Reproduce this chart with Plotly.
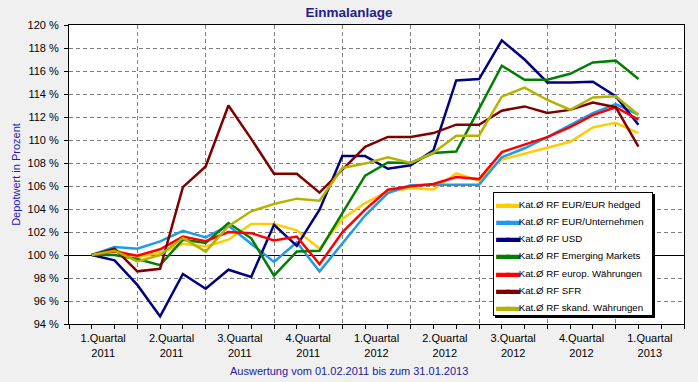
import plotly.graph_objects as go

months = list(range(1, 26))

quarter_labels = ["1.Quartal<br>2011", "2.Quartal<br>2011", "3.Quartal<br>2011", "4.Quartal<br>2011",
                  "1.Quartal<br>2012", "2.Quartal<br>2012", "3.Quartal<br>2012", "4.Quartal<br>2012",
                  "1.Quartal<br>2013"]
quarter_centers = [1.5, 4.5, 7.5, 10.5, 13.5, 16.5, 19.5, 22.5, 25.5]
quarter_bounds = [3, 6, 9, 12, 15, 18, 21, 24]

names = ["Kat.Ø RF EUR/EUR hedged", "Kat.Ø RF EUR/Unternehmen", "Kat.Ø RF USD",
         "Kat.Ø RF Emerging Markets", "Kat.Ø RF europ. Währungen", "Kat.Ø RF SFR",
         "Kat.Ø RF skand. Währungen"]

eur_hedged = [100, 100.46, 99.83, 100.17, 100.98, 100.75, 101.33, 102.7, 102.7, 102.14, 100.55, 103.13,
              104.52, 105.53, 105.8, 105.7, 107.1, 106.46, 108.3, 108.8, 109.3, 109.85, 111.1, 111.5, 110.6]
eur_unternehmen = [100, 100.7, 100.55, 101.18, 102.1, 101.53, 102.55, 100.95, 99.4, 101.1, 98.57, 101.0,
                   103.43, 105.39, 106.06, 106.1, 106.1, 106.1, 108.5, 109.28, 110.25, 111.33, 112.34, 113.13, 112.2]
usd = [100, 99.53, 97.4, 94.66, 98.35, 97.07, 98.72, 98.1, 102.63, 100.8, 103.94, 108.6,
       108.6, 107.5, 107.8, 109.1, 115.18, 115.3, 118.66, 117.0, 115.0, 115.0, 115.07, 113.8, 111.33]
emerging = [100, 100.0, 99.65, 99.12, 101.33, 101.04, 102.78, 101.45, 98.2, 100.3, 100.37, 103.6,
            106.9, 108.05, 108.0, 108.87, 109.0, 112.7, 116.46, 115.24, 115.24, 115.76, 116.74, 116.9, 115.3]
europ = [100, 100.3, 99.94, 100.5, 101.6, 101.2, 102.0, 101.9, 101.27, 101.6, 99.2, 101.97,
         103.95, 105.67, 105.97, 106.18, 106.78, 106.6, 108.95, 109.58, 110.25, 111.12, 112.17, 112.85, 111.78]
sfr = [100, 100.55, 98.58, 98.8, 105.9, 107.7, 113.0, 110.1, 107.07, 107.07, 105.42, 107.4,
       109.4, 110.27, 110.27, 110.6, 111.33, 111.33, 112.55, 112.92, 112.35, 112.62, 113.25, 112.85, 109.43]
skand = [100, 100.37, 99.45, 100.0, 101.47, 100.3, 102.5, 103.8, 104.43, 104.9, 104.72, 107.57,
         107.95, 108.5, 108.0, 108.9, 110.37, 110.37, 113.77, 114.55, 113.48, 112.63, 113.7, 113.8, 112.2]

series = [eur_hedged, eur_unternehmen, usd, emerging, europ, sfr, skand]
colors = ["#ffcc00", "#1e9be8", "#000080", "#008000", "#ff0000", "#800000", "#b4b400"]

FONT = "Liberation Sans, Arial, sans-serif"

fig = go.Figure()
for name, vals, col in zip(names, series, colors):
    fig.add_trace(go.Scatter(x=months, y=vals, mode="lines", name=name,
                             line=dict(color=col, width=2.5), showlegend=False))
# invisible helper trace so the overlay axes (quarter grid, 100 % line) exist
fig.add_trace(go.Scatter(x=[None], y=[None], mode="lines", xaxis="x2", yaxis="y2",
                         showlegend=False, hoverinfo="skip"))

# legend built as one boxed text block
legend_lines = []
for name, col in zip(names, colors):
    legend_lines.append(
        f'<span style="color:{col};font-size:14px;letter-spacing:-4px">▬▬</span>'
        f'<span style="font-size:9.7px"> {name}</span>')
legend_text = "<br>".join(legend_lines)

LEG_X = 0.6894
LEG_Y = 0.4415

fig.update_layout(
    width=698, height=382,
    margin=dict(l=69, r=14, t=25, b=58),
    paper_bgcolor="#f0f0f0", plot_bgcolor="white",
    font=dict(family=FONT, size=11, color="black"),
    title=dict(text="<b>Einmalanlage</b>", x=0.5, xanchor="center", y=0.968, yanchor="middle",
               font=dict(family=FONT, size=13.5, color="#20208a")),
    xaxis=dict(range=[0, 27], tickmode="array", tickvals=quarter_centers, ticktext=quarter_labels,
               ticks="", showgrid=False, zeroline=False, showline=True, linecolor="black",
               linewidth=1, mirror=True, tickfont=dict(size=11, color="black"),
               ticklabelstandoff=4,
               minor=dict(tickmode="linear", tick0=0, dtick=1, ticks="outside", ticklen=4,
                          tickcolor="black", showgrid=False)),
    xaxis2=dict(range=[0, 27], overlaying="x", anchor="y", side="bottom", tickmode="array",
                tickvals=quarter_bounds, showticklabels=False, ticks="", showgrid=True,
                gridcolor="#808080", gridwidth=1, griddash="4px,3px", zeroline=False, showline=False),
    yaxis=dict(range=[94, 120], tickmode="linear", tick0=94, dtick=2, ticksuffix=" %",
               ticks="outside", ticklen=4, tickcolor="black", showgrid=True, gridcolor="#808080",
               griddash="4px,3px", gridwidth=1, zeroline=False, showline=True, linecolor="black",
               linewidth=1, mirror=True, tickfont=dict(size=11, color="black"),
               ticklabelstandoff=3,
               title=dict(text="Depotwert in Prozent", font=dict(size=11, color="#1c1cb4"), standoff=4)),
    yaxis2=dict(range=[94, 120], overlaying="y", anchor="x", tickmode="array", tickvals=[100],
                showticklabels=False, ticks="", showgrid=True, gridcolor="black", gridwidth=1,
                zeroline=False, showline=False),
    showlegend=False,
    annotations=[
        dict(text="Auswertung vom 01.02.2011 bis zum 31.01.2013", xref="paper", yref="paper",
             x=0.455, y=-0.157, xanchor="center", yanchor="middle", showarrow=False,
             font=dict(size=11, color="#2020a0")),
        # legend shadow
        dict(text=" ", xref="paper", yref="paper", x=LEG_X, y=LEG_Y, xshift=2, yshift=-2,
             xanchor="left", yanchor="top", showarrow=False, width=154, height=118,
             bgcolor="black", bordercolor="black", borderwidth=1, borderpad=2,
             font=dict(size=13.2)),
        dict(text=legend_text, xref="paper", yref="paper", x=LEG_X, y=LEG_Y,
             xanchor="left", yanchor="top", align="left", valign="top", showarrow=False,
             width=154, height=118,
             bgcolor="white", bordercolor="black", borderwidth=1, borderpad=2,
             font=dict(size=13.2, color="black")),
    ],
)

fig.write_html("out.html", post_script="document.body.style.margin='0px';",
               config={"displayModeBar": False})
